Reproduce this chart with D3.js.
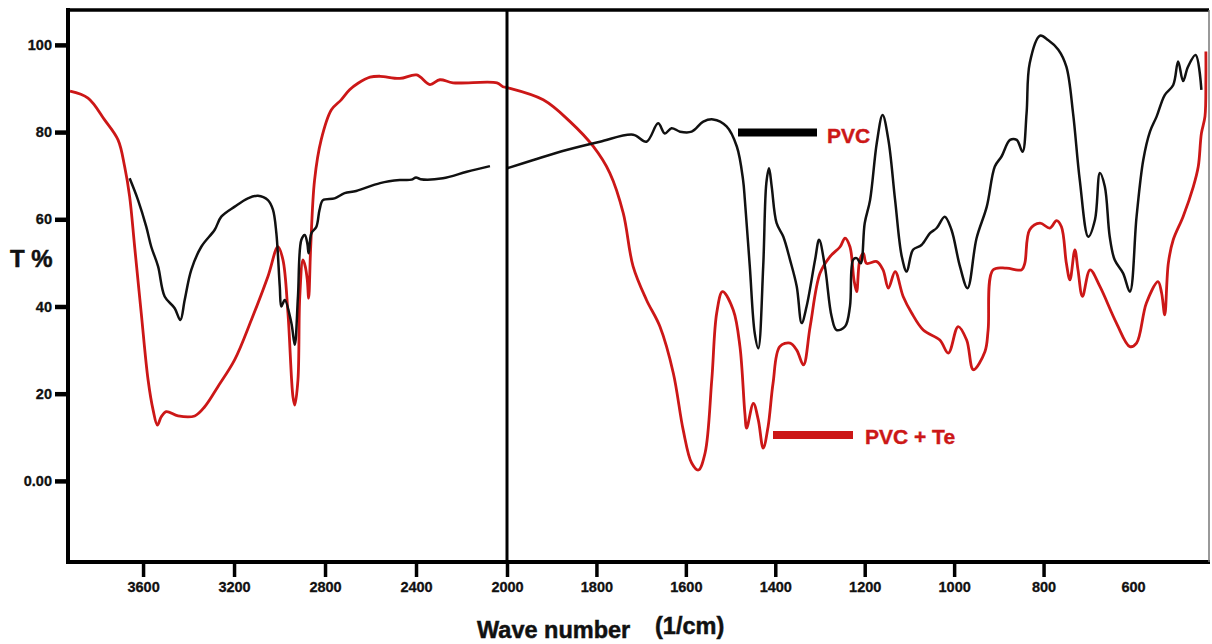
<!DOCTYPE html>
<html>
<head>
<meta charset="utf-8">
<script src="https://cdn.jsdelivr.net/npm/d3@7/dist/d3.min.js"></script>
<style>
  html, body { margin: 0; padding: 0; background: #ffffff; }
  svg { display: block; font-family: "Liberation Sans", Arial, sans-serif; }
</style>
</head>
<body>
<svg id="chart" width="1212" height="644"></svg>
<script>
// ---------- data ----------
const xTickValues = [3600, 3200, 2800, 2400, 2000, 1800, 1600, 1400, 1200, 1000, 800, 600];
const yTickValues = [0, 20, 40, 60, 80, 100];
const yTickLabels = ["0.00", "20", "40", "60", "80", "100"];
const seriesNames = ["PVC", "PVC + Te"];

// PVC + Te (red)
const pvcTeWn = [3921,3842,3769,3710,3681,3659,3637,3608,3578,3556,3537,3520,3498,3446,3373,3329,3271,3197,3124,3051,3007,2985,2963,2941,2933,2919,2911,2897,2887,2878,2872,2863,2846,2817,2772,2729,2692,2655,2602,2558,2471,2397,2339,2295,2237,2044,2018,2000,
  1919,1859,1807,1770,1740,1718,1688,1658,1628,1606,1587,1572,1557,1542,1531,1518,1494,1479,1468,1464,1449,1438,1427,1416,1405,1390,1367,1352,1337,1322,1300,1278,1255,1244,1233,1224,1218,1211,1203,1196,1173,1159,1147,1132,1114,1095,1069,1032,1013,991,972,957,931,924,913,883,849,842,831,808,786,771,760,749,741,730,723,713,696,674,637,607,592,570,544,536,529,521,510,488,465,454,447,439,437,437];
const pvcTeT = [89.4,87.8,82.8,78.2,72.1,65.2,53.7,38.5,23.2,16.3,12.8,14.7,15.9,14.9,14.9,17.0,21.6,27.8,36.9,46.9,53.7,50.7,38.5,19.3,17.4,23.2,42.3,50.7,49.2,46.1,41.9,53.7,69.0,78.2,85.1,87.4,89.7,91.2,92.6,92.8,92.3,93.1,90.9,92.0,91.3,91.3,90.4,90.2,
  87.4,82.4,76.7,70.6,61.4,49.2,41.5,35.4,24.7,11.7,4.1,2.5,6.4,23.2,38.5,43.4,39.2,30.8,15.5,12.1,17.8,14.0,7.5,12.5,22.4,30.8,31.6,30.0,26.6,35.4,47.6,51.4,53.7,55.7,53.7,46.1,43.4,50.7,52.2,49.9,50.3,48.4,44.2,48.0,42.3,38.5,34.6,32.3,29.3,35.4,32.3,25.5,29.7,34.6,48.4,48.8,48.4,49.9,57.6,59.1,58.0,59.7,58.3,49.9,46.1,53.0,48.4,42.3,48.4,44.6,36.2,30.8,31.6,40.8,45.7,43.1,38.1,49.9,55.3,60.6,67.5,72.1,79.7,83.6,92.0,98.5];

// PVC (black), high wavenumber segment
const pvcHighWn = [3659,3622,3586,3564,3534,3505,3461,3436,3417,3388,3344,3285,3256,3197,3139,3095,3051,3029,3014,2999,2992,2977,2948,2933,2919,2904,2889,2878,2872,2860,2838,2824,2809,2758,2714,2663,2558,2471,2420,2400,2380,2282,2177,2075];
const pvcHighT = [69.4,64.4,58.3,53.7,49.2,42.3,39.6,36.9,41.5,48.4,53.7,57.6,60.6,62.9,64.8,65.4,64.4,62.2,56.8,44.6,40.0,41.5,36.2,31.2,42.3,55.3,56.4,54.5,52.2,56.8,58.3,62.2,64.4,64.8,66.0,66.5,68.3,69.0,69.1,69.6,69.2,69.4,70.9,72.2];

// PVC (black), low wavenumber segment
const pvcLowWn = [2000,1941,1867,1792,1718,1688,1662,1647,1632,1613,1587,1561,1539,1509,1486,1472,1468,1457,1446,1438,1427,1420,1414,1408,1397,1382,1367,1352,1341,1330,1311,1302,1289,1274,1263,1244,1233,1226,1218,1209,1200,1188,1173,1160,1147,1132,1117,1106,1092,1073,1054,1039,1021,1006,987,970,950,927,909,894,875,860,847,838,831,808,790,767,749,734,719,700,685,674,663,652,641,622,607,592,577,562,547,529,510,499,488,477,460,447];
const pvcLowT = [71.7,73.6,75.9,77.8,79.4,77.8,82.0,79.7,80.9,80.1,80.1,82.4,82.9,81.3,76.7,69.0,64.4,49.2,33.9,30.4,49.2,68.3,71.7,67.5,59.1,56.0,50.7,44.6,36.2,40.0,50.7,55.3,49.2,37.7,34.6,35.4,40.0,50.7,51.1,49.9,59.1,64.4,77.5,83.9,78.2,64.4,51.4,48.0,53.0,54.1,56.8,58.0,60.6,57.6,49.2,44.2,55.6,62.9,72.1,74.4,78.2,78.2,75.5,84.3,95.8,102.1,101.1,98.9,95.0,84.3,69.0,56.0,59.9,70.6,67.5,56.0,50.7,47.6,43.4,60.6,73.6,80.1,83.6,88.5,90.8,96.2,91.7,95.0,97.7,89.7];

// ---------- layout ----------
const svg = d3.select("#chart");
const L = 68, R = 1209, T = 10, B = 562, SPLIT = 507;
const RED = "#cc1717";
const FONT = "'Liberation Sans', Arial, sans-serif";

// piecewise (split) wavenumber axis
const x = d3.scaleLinear().domain([3930, 2000, 430]).range([L, SPLIT, R]);
const y = d3.scaleLinear().domain([-18.6, 108]).range([B, T]);

const zip = (a, b) => a.map((v, i) => [v, b[i]]);
const line = d3.line().x(d => x(d[0])).y(d => y(d[1])).curve(d3.curveCatmullRom.alpha(0.5));

// curves
svg.append("path").datum(zip(pvcTeWn, pvcTeT)).attr("d", line)
  .attr("fill", "none").attr("stroke", RED).attr("stroke-width", 2.8).attr("stroke-linejoin", "round");
svg.append("path").datum(zip(pvcHighWn, pvcHighT)).attr("d", line)
  .attr("fill", "none").attr("stroke", "#111").attr("stroke-width", 2.5).attr("stroke-linejoin", "round");
svg.append("path").datum(zip(pvcLowWn, pvcLowT)).attr("d", line)
  .attr("fill", "none").attr("stroke", "#111").attr("stroke-width", 2.5).attr("stroke-linejoin", "round");

// frame
svg.append("line").attr("x1", L).attr("x2", L).attr("y1", T - 2).attr("y2", B + 2).attr("stroke", "#000").attr("stroke-width", 4);
svg.append("line").attr("x1", L - 2).attr("x2", R).attr("y1", T).attr("y2", T).attr("stroke", "#000").attr("stroke-width", 3.5);
svg.append("line").attr("x1", L - 2).attr("x2", R + 1).attr("y1", B).attr("y2", B).attr("stroke", "#000").attr("stroke-width", 4);
svg.append("line").attr("x1", R).attr("x2", R).attr("y1", T).attr("y2", B).attr("stroke", "#777").attr("stroke-width", 1.5);
// split divider
svg.append("line").attr("x1", x(2000)).attr("x2", x(2000)).attr("y1", T).attr("y2", B).attr("stroke", "#000").attr("stroke-width", 3);

// x axis
const xAxis = svg.append("g").attr("transform", `translate(0,${B})`)
  .call(d3.axisBottom(x).tickValues(xTickValues).tickSize(15).tickFormat(d3.format("d")));
xAxis.select(".domain").remove();
xAxis.selectAll(".tick line").attr("stroke", "#000").attr("stroke-width", 3.5)
  .filter(d => d === 600).remove();
xAxis.selectAll(".tick text").attr("y", 30).attr("dy", 0)
  .attr("font-size", 14.5).attr("font-weight", "bold").attr("fill", "#111")
  .attr("stroke", "#111").attr("stroke-width", 0.3)
  .attr("font-family", FONT);

// y axis
const yAxis = svg.append("g").attr("transform", `translate(${L},0)`)
  .call(d3.axisLeft(y).tickValues(yTickValues).tickSize(13).tickPadding(3)
    .tickFormat((d, i) => yTickLabels[i]));
yAxis.select(".domain").remove();
yAxis.selectAll(".tick line").attr("stroke", "#000").attr("stroke-width", 4.5);
yAxis.selectAll(".tick text").attr("font-size", 14.5).attr("font-weight", "bold").attr("fill", "#111")
  .attr("stroke", "#111").attr("stroke-width", 0.3)
  .attr("font-family", FONT);

// axis titles
const title = (tx, ty, s, size) => svg.append("text").attr("x", tx).attr("y", ty).text(s)
  .attr("font-size", size).attr("font-weight", "bold").attr("fill", "#111")
  .attr("stroke", "#111").attr("stroke-width", 0.5).attr("font-family", FONT);
title(10, 267, "T %", 24);
title(477, 638, "Wave number", 23.5);
title(655, 634, "(1/cm)", 23.5);

// legend
const legend = [
  { name: seriesNames[0], color: "#000", x1: 738, x2: 817, y: 132.5, tx: 827, ty: 143 },
  { name: seriesNames[1], color: RED,   x1: 773, x2: 853, y: 435,   tx: 865, ty: 444 }
];
legend.forEach(l => {
  svg.append("line").attr("x1", l.x1).attr("x2", l.x2).attr("y1", l.y).attr("y2", l.y)
    .attr("stroke", l.color).attr("stroke-width", 8);
  svg.append("text").attr("x", l.tx).attr("y", l.ty).text(l.name)
    .attr("font-size", 21).attr("font-weight", "bold").attr("fill", RED)
    .attr("stroke", RED).attr("stroke-width", 0.4).attr("font-family", FONT);
});
</script>
</body>
</html>
